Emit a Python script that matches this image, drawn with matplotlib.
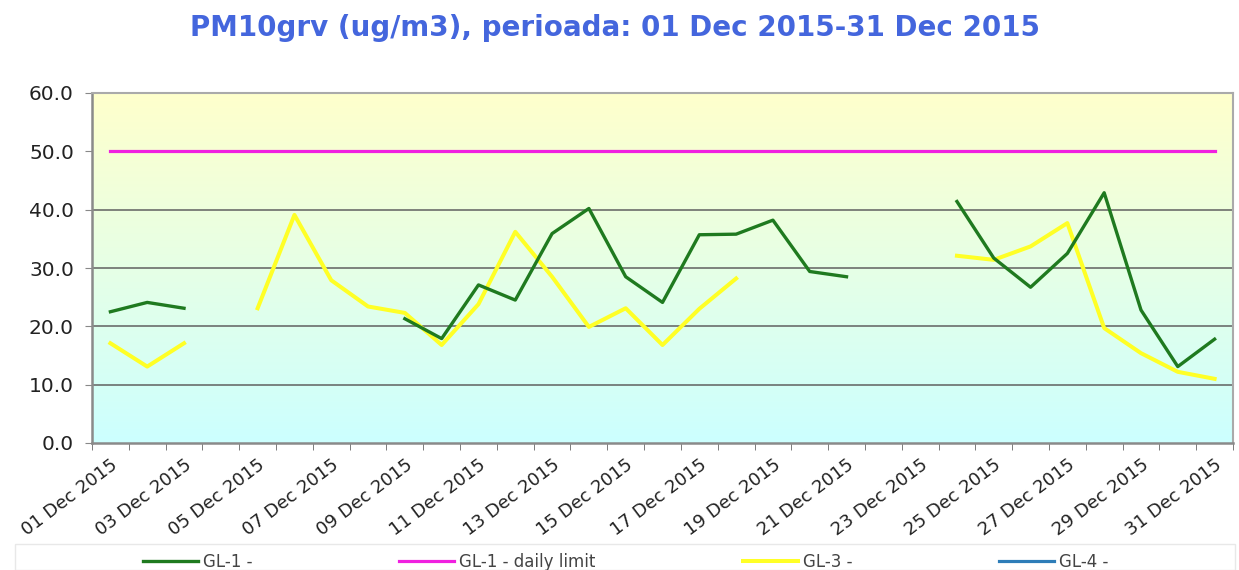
import numpy as np
import matplotlib
matplotlib.use('Agg')
import matplotlib.pyplot as plt
from matplotlib.colors import LinearSegmentedColormap
from matplotlib.patches import Rectangle

nan = np.nan

# Daily values, 01-31 Dec 2015 (gaps = no data)
days = [f'{d:02d} Dec 2015' for d in range(1, 32)]
gl1 = [22.5, 24.1, 23.1, nan, nan, nan, nan, nan, 21.3, 17.9,
       27.1, 24.5, 35.9, 40.2, 28.5, 24.1, 35.7, 35.8, 38.2, 29.4,
       28.5, nan, nan, 41.4, 31.7, 26.7, 32.5, 42.9, 22.8, 13.1, 17.8]
gl1_limit = [50.0] * 31
gl3 = [17.1, 13.1, 17.1, nan, 23.1, 39.1, 27.9, 23.4, 22.3, 16.8,
       23.8, 36.2, 28.5, 19.9, 23.1, 16.8, 23.0, 28.2, nan, nan,
       nan, nan, nan, 32.1, 31.4, 33.7, 37.7, 19.7, 15.4, 12.2, 11.0]
gl4 = [nan] * 31
y_ticks = [0, 10, 20, 30, 40, 50, 60]

x = np.arange(1, len(days) + 1)

fig = plt.figure(figsize=(12.39, 5.70), dpi=100)
ax = fig.add_axes([92/1239, 127/570, 1141/1239, 350/570])

# yellow -> cyan background gradient
cmap = LinearSegmentedColormap.from_list('bg', ['#CCFFFF', '#E6FFE6', '#FFFFCC'])
grad = np.linspace(0, 1, 256).reshape(-1, 1)
ax.imshow(grad, cmap=cmap, origin='lower', aspect='auto',
          extent=[0, 1, 0, 1], transform=ax.transAxes, zorder=0)

for v in [10, 20, 30, 40]:
    ax.axhline(v, color='#606060', lw=1.1, zorder=1)

ax.plot(x, gl1, color='#1f7a1f', lw=2.4, label='GL-1 -', zorder=4)
ax.plot(x, gl1_limit, color='#F020E0', lw=2.3, label='GL-1 - daily limit', zorder=3)
ax.plot(x, gl3, color='#FFFF26', lw=2.9, label='GL-3 -', zorder=3)
ax.plot(x, gl4, color='#2E7DB8', lw=2.3, label='GL-4 -', zorder=3)

ax.set_xlim(0.5, len(days) + 0.5)
ax.set_ylim(0, 60)

ax.set_yticks(y_ticks)
ax.set_yticklabels([f'{v:.1f}' for v in y_ticks])
ax.tick_params(axis='y', direction='out', length=5, color='#888888',
               labelsize=14.5, labelcolor='#222222', pad=8)

ax.set_xticks(x[::2])
ax.set_xticklabels(days[::2], rotation=37, ha='right', va='top',
                   rotation_mode='anchor', fontsize=13, color='#222222')
ax.tick_params(axis='x', length=0, pad=9)
ax.set_xticks(np.arange(0.5, len(days) + 1), minor=True)
ax.tick_params(axis='x', which='minor', direction='out', length=5, color='#666666')

for side in ['left', 'bottom']:
    ax.spines[side].set_color('#8a8a8a')
    ax.spines[side].set_linewidth(1.8)
for side in ['top', 'right']:
    ax.spines[side].set_color('#aaaaaa')
    ax.spines[side].set_linewidth(1.5)

fig.text(0.496, 1 - 28/570, 'PM10grv (ug/m3), perioada: 01 Dec 2015-31 Dec 2015',
         ha='center', va='center', fontsize=20, fontweight='bold', color='#4466DD')

# faint legend frame
fig.patches.append(Rectangle((15/1239, 0), 1220/1239, 26/570, transform=fig.transFigure,
                             fill=False, edgecolor='#e8e8e8', lw=1))
leg = fig.legend(loc='center', bbox_to_anchor=(0.505, 8/570), ncol=4, frameon=False,
                 fontsize=12, handlelength=3.3, handletextpad=0.3, columnspacing=8.8)
for t in leg.get_texts():
    t.set_color('#444444')

fig.savefig('out.png', dpi=100)
